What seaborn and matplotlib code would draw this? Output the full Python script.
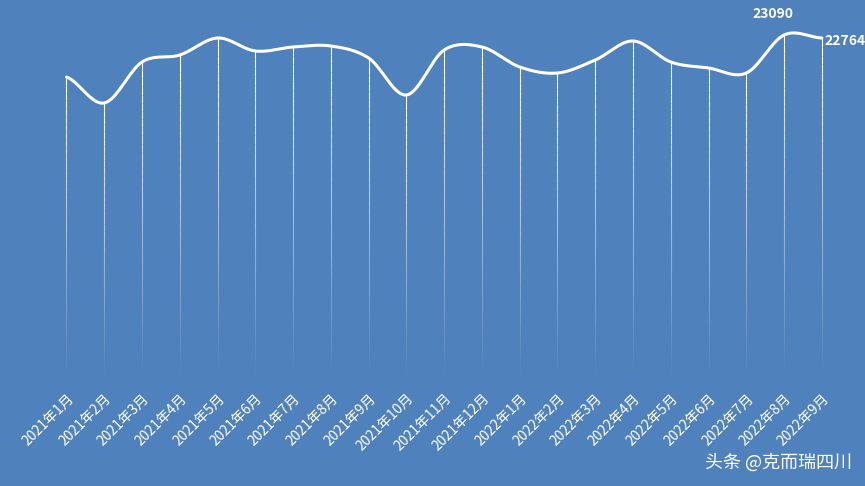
import numpy as np
import pandas as pd
import matplotlib
matplotlib.use("Agg")
import matplotlib.pyplot as plt
import seaborn as sns
from matplotlib.collections import LineCollection

categories = ["2021年1月","2021年2月","2021年3月","2021年4月","2021年5月","2021年6月","2021年7月",
              "2021年8月","2021年9月","2021年10月","2021年11月","2021年12月","2022年1月","2022年2月",
              "2022年3月","2022年4月","2022年5月","2022年6月","2022年7月","2022年8月","2022年9月"]
values = [18525, 15700, 20155, 20916, 22764, 21351, 21786, 21894, 20590, 16568, 21460, 21786,
          19612, 18960, 20373, 22438, 20155, 19503, 18960, 23090, 22764]

sns.set_theme(style="white")
plt.rcParams['font.family'] = ['Noto Sans CJK SC', 'DejaVu Sans']
bg = "#4F81BD"
fig = plt.figure(figsize=(8.65, 4.86), dpi=100, facecolor=bg)
ax = fig.add_axes([0.055, 0.218, 0.917, 0.782])
ax.set_facecolor(bg)
for s in ax.spines.values():
    s.set_visible(False)

n = len(values)
x = np.arange(n)
ymin, ymax = -14412, 26894
ax.set_ylim(ymin, ymax)
ax.set_xlim(-0.5, n - 0.5)

# gradient drop lines
for xi, v in zip(x, values):
    ys = np.linspace(v, ymin, 40)
    segs = [[(xi, ys[i]), (xi, ys[i + 1])] for i in range(len(ys) - 1)]
    alphas = np.linspace(1.0, 0.0, len(segs))
    cols = [(1, 1, 1, a) for a in alphas]
    ax.add_collection(LineCollection(segs, colors=cols, linewidths=0.8))

# smooth curve (Catmull-Rom)
p = np.array(values, dtype=float)
pp = np.concatenate([[p[0]], p, [p[-1]]])
xs, ysm = [], []
for i in range(n - 1):
    t = np.linspace(0, 1, 20, endpoint=False)
    p0, p1, p2, p3 = pp[i], pp[i + 1], pp[i + 2], pp[i + 3]
    yy = 0.5 * (2 * p1 + (-p0 + p2) * t + (2 * p0 - 5 * p1 + 4 * p2 - p3) * t**2 + (-p0 + 3 * p1 - 3 * p2 + p3) * t**3)
    xs.extend(i + t); ysm.extend(yy)
xs.append(n - 1); ysm.append(p[-1])
sns.lineplot(x=xs, y=ysm, ax=ax, color="white", linewidth=2.2)

ax.annotate(f"{values[19]}", (19, values[19]), xytext=(-8, 12), textcoords="offset points",
            ha="center", color="white", fontsize=10, fontweight="bold")
ax.annotate(f"{values[20]}", (20, values[20]), xytext=(2, -2), textcoords="offset points",
            ha="left", va="center", color="white", fontsize=10, fontweight="bold")

ax.set_xticks(x)
ax.set_xticklabels(categories, rotation=45, ha="right", rotation_mode="anchor",
                   color="white", fontsize=10)
ax.tick_params(axis="x", length=0, pad=8)
ax.set_yticks([])

fig.text(0.985, 0.03, "头条 @克而瑞四川", color="white", fontsize=13, ha="right", va="bottom")
fig.savefig("out.png", dpi=100, facecolor=bg)
